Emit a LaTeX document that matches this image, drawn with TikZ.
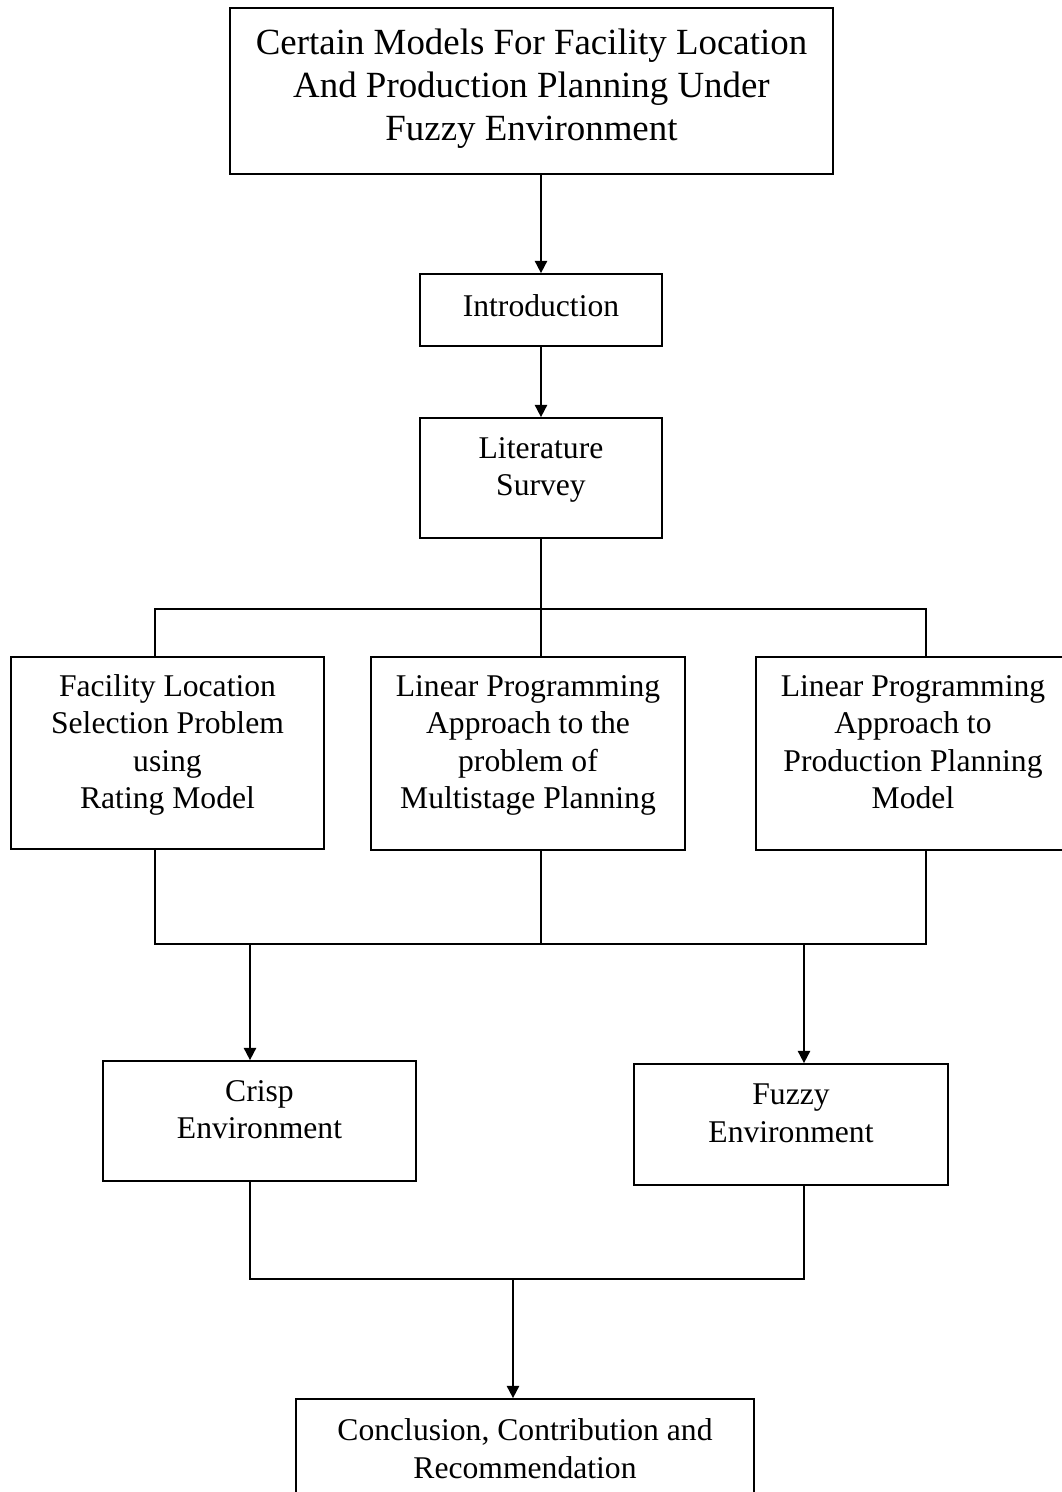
\documentclass[tikz,border=0pt]{standalone}
\usepackage{fontspec}
\setmainfont{Liberation Serif}
\usetikzlibrary{arrows.meta}
\begin{document}
\begin{tikzpicture}[x=0.02cm,y=-0.02cm,
    block/.style={draw,line width=1pt,align=center,inner sep=2pt,
      font=\fontsize{18}{21.3}\selectfont},
    lowered/.style={text depth=0.46cm},
    arr/.style={line width=1pt,-{Triangle[width=7pt,length=7pt]}},
    link/.style={line width=1pt}]
    \useasboundingbox (0,0) rectangle (1062,1492);
    \node[block,minimum width=12.06cm,minimum height=3.32cm,text depth=0.24cm,
      font=\fontsize{21}{24.5}\selectfont] (title) at (531.5,91)
      {Certain Models For Facility Location\\And Production Planning Under\\Fuzzy Environment};
    \node[block,text depth=0.16cm,minimum width=4.84cm,minimum height=1.44cm] (intro) at (541,310) {Introduction};
    \node[block,lowered,minimum width=4.84cm,minimum height=2.4cm] (lit) at (541,478) {Literature\\Survey};
    \node[block,lowered,minimum width=6.26cm,minimum height=3.84cm] (fac) at (167.5,753)
      {Facility Location\\Selection Problem\\using\\Rating Model};
    \node[block,lowered,minimum width=6.28cm,minimum height=3.86cm] (lpm) at (528,753.5)
      {Linear Programming\\Approach to the\\problem of\\Multistage Planning};
    \node[block,lowered,minimum width=6.28cm,minimum height=3.86cm] (prod) at (913,753.5)
      {Linear Programming\\Approach to\\Production Planning\\Model};
    \node[block,lowered,minimum width=6.26cm,minimum height=2.4cm] (crisp) at (259.5,1121) {Crisp\\Environment};
    \node[block,lowered,minimum width=6.28cm,minimum height=2.42cm] (fuzzy) at (791,1124.5) {Fuzzy\\Environment};
    \node[block,lowered,minimum width=9.16cm,minimum height=2.44cm] (concl) at (525,1460)
      {Conclusion, Contribution and\\Recommendation};
    \coordinate (splitL) at (155,609);
    \coordinate (splitR) at (926,609);
    \coordinate (joinL) at (155,944);
    \coordinate (joinR) at (926,944);
    \coordinate (crispin) at (250,944);
    \coordinate (fuzzyin) at (804,944);
    \coordinate (mergeL) at (250,1279);
    \coordinate (mergeR) at (804,1279);
    \coordinate (mergeM) at (513,1279);
    \draw[arr] (title.south -| intro) -- (intro);
    \draw[arr] (intro) -- (lit);
    \draw[link] (lit) -- (lit |- splitL);
    \draw[link] (splitL |- fac.north) -- (splitL) -- (splitR) -- (splitR |- prod.north);
    \draw[link] (lit |- splitL) -- (lit |- lpm.north);
    \draw[link] (splitL |- fac.south) -- (joinL) -- (joinR) -- (joinR |- prod.south);
    \draw[link] (lit |- lpm.south) -- (lit |- joinL);
    \draw[arr] (crispin) -- (crispin |- crisp.north);
    \draw[arr] (fuzzyin) -- (fuzzyin |- fuzzy.north);
    \draw[link] (crispin |- crisp.south) -- (mergeL) -- (mergeR) -- (fuzzyin |- fuzzy.south);
    \draw[arr] (mergeM) -- (mergeM |- concl.north);
\end{tikzpicture}
\end{document}
